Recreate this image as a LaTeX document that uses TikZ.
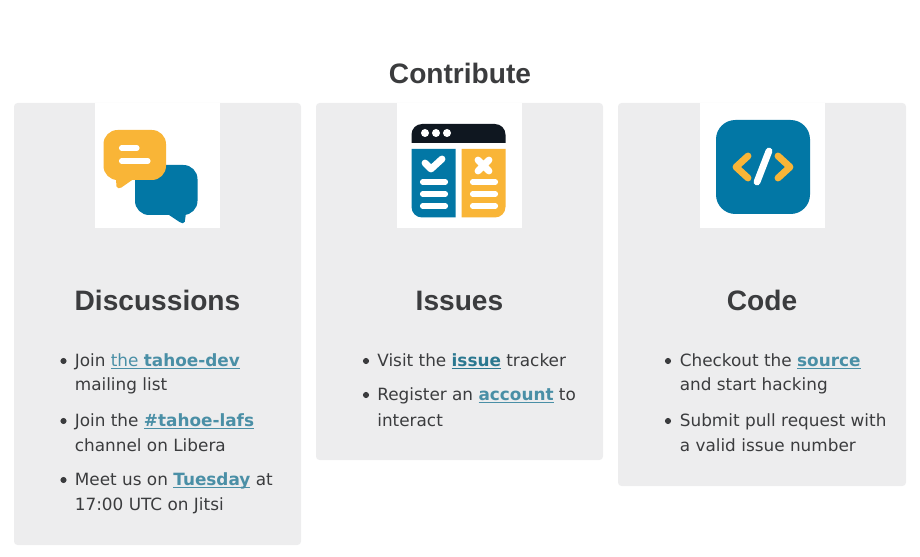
\documentclass[tikz,border=0pt]{standalone}
\usepackage{fontspec}
\setmainfont{DejaVu Sans}
\newfontfamily\headfont{Liberation Sans}
\definecolor{cardgray}{HTML}{EDEDEE}
\definecolor{inktext}{HTML}{3B3C3E}
\definecolor{linkteal}{HTML}{4A8FA6}
\definecolor{linkdark}{HTML}{2B7890}
\definecolor{iconblue}{HTML}{0277A5}
\definecolor{iconamber}{HTML}{F9B537}
\definecolor{iconblack}{HTML}{0F1720}
\newsavebox{\ulbox}
\newcommand{\undr}[1]{\sbox{\ulbox}{#1}\rlap{\rule[-1.7pt]{\wd\ulbox}{0.7pt}}\usebox{\ulbox}}
\newcommand{\lnk}[1]{{\color{linkteal}\undr{\textbf{#1}}}}
\tikzset{
	card/.style={fill=cardgray,rounded corners=2pt},
	bodytext/.style={anchor=base west,inner sep=0pt,text=inktext,font=\fontsize{9.6}{12}\selectfont},
	headtext/.style={anchor=base,inner sep=0pt,text=inktext,font=\headfont\bfseries\fontsize{16}{19}\selectfont},
	dotmark/.style={circle,fill=inktext,inner sep=0pt,minimum size=3.5pt},
	whitebar/.style={line width=2.9pt,white,line cap=round},
	thickmark/.style={line width=3.9pt,line cap=round,line join=round},
}
\begin{document}
\begin{tikzpicture}[x=0.02cm,y=-0.02cm]
	\useasboundingbox (0,0) rectangle (920,557);
	%%%%% CARDS %%%%%
	\fill[card] (14,103) rectangle (301,545);
	\fill[card] (316,103) rectangle (603,460);
	\fill[card] (618,103) rectangle (906,486);
	\fill[white] (95,103) rectangle (220,228);
	\fill[white] (397,103) rectangle (522,228);
	\fill[white] (700,103) rectangle (825,228);
	%%%%% TITLES %%%%%
	\node[headtext] (title) at (460,83.5) {Contribute};
	\node[headtext] (discussions) at (157.5,310.5) {Discussions};
	\node[headtext] (issues) at (459.5,310.5) {Issues};
	\node[headtext] (code) at (762,310.5) {Code};
	%%%%% ICON 1 %%%%%
	\fill[iconblue,rounded corners=8pt] (135,165) rectangle (197.5,215);
	\fill[iconblue,rounded corners=1pt] (166,213) -- (186,213) -- (184.5,223.5) -- (181,223) -- cycle;
	\fill[iconamber,rounded corners=8pt] (103.5,130) rectangle (166,180);
	\fill[iconamber,rounded corners=1pt] (116,178) -- (135,178) -- (120,188.5) -- (116.5,188) -- cycle;
	\draw[whitebar] (121.5,148) -- (137,148);
	\draw[whitebar] (121.5,161) -- (148,161);
	%%%%% ICON 2 %%%%%
	\fill[iconblack] (411.5,143) [rounded corners=6pt] -- (411.5,124) -- (505.5,124) [sharp corners] -- (505.5,143) -- cycle;
	\foreach \dotx in {425,436,447}
		\fill[white] (\dotx,133) circle (4);
	\fill[iconblue] (411.5,149) -- (455.5,149) -- (455.5,217.5) [rounded corners=6pt] -- (411.5,217.5) [sharp corners] -- cycle;
	\fill[iconamber] (505.5,149) -- (461.5,149) -- (461.5,217.5) [rounded corners=6pt] -- (505.5,217.5) [sharp corners] -- cycle;
	\draw[white,thickmark] (425,163) -- (431,169) -- (442,159);
	\draw[white,thickmark] (478,160) -- (489,171) (489,160) -- (478,171);
	\foreach \bary in {182,194,206} {
		\draw[whitebar] (422.5,\bary) -- (445.5,\bary);
		\draw[whitebar] (472.5,\bary) -- (495.5,\bary);
	}
	%%%%% ICON 3 %%%%%
	\fill[iconblue,rounded corners=11pt] (716,120) rectangle (810,214);
	\draw[iconamber,thickmark] (748,156) -- (736,167) -- (748,178);
	\draw[iconamber,thickmark] (778,156) -- (790,167) -- (778,178);
	\draw[white,thickmark] (769,151) -- (757,182);
	%%%%% LIST 1 %%%%%
	\node[dotmark] (dotA) at (63.5,361) {};
	\node[bodytext] (joinA) at (74.5,366) {Join {\color{linkteal}\undr{the }\undr{\textbf{tahoe-dev}}}};
	\node[bodytext] (joinB) at (74.5,391) {mailing list};
	\node[dotmark] (dotB) at (63.5,421) {};
	\node[bodytext] (ircA) at (74.5,426) {Join the \lnk{\#tahoe-lafs}};
	\node[bodytext] (ircB) at (74.5,451) {channel on Libera};
	\node[dotmark] (dotC) at (63.5,480) {};
	\node[bodytext] (meetA) at (74.5,485) {Meet us on \lnk{Tuesday} at};
	\node[bodytext] (meetB) at (74.5,510) {17:00 UTC on Jitsi};
	%%%%% LIST 2 %%%%%
	\node[dotmark] (dotD) at (366,361) {};
	\node[bodytext] (visit) at (377,366) {Visit the {\color{linkdark}\undr{\textbf{issue}}} tracker};
	\node[dotmark] (dotE) at (366,395) {};
	\node[bodytext] (regA) at (377,400) {Register an \lnk{account} to};
	\node[bodytext] (regB) at (377,426) {interact};
	%%%%% LIST 3 %%%%%
	\node[dotmark] (dotF) at (668,361) {};
	\node[bodytext] (checkA) at (679.5,366) {Checkout the \lnk{source}};
	\node[bodytext] (checkB) at (679.5,391) {and start hacking};
	\node[dotmark] (dotG) at (668,421) {};
	\node[bodytext] (pullA) at (679.5,426) {Submit pull request with};
	\node[bodytext] (pullB) at (679.5,451) {a valid issue number};
\end{tikzpicture}
\end{document}
